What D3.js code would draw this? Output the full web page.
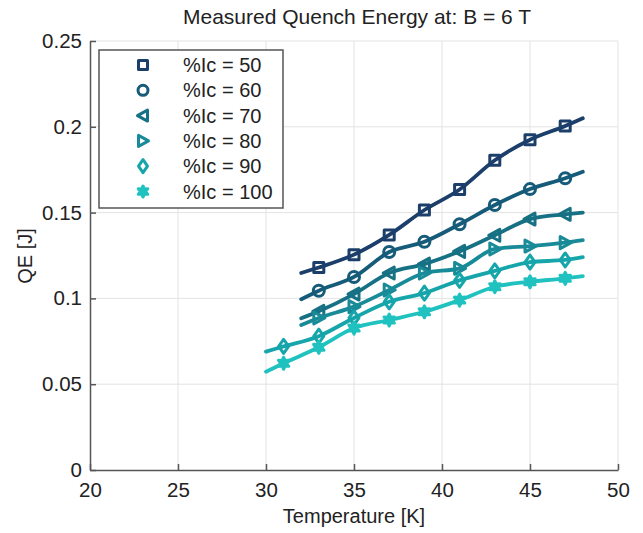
<!DOCTYPE html>
<html>
<head>
<meta charset="utf-8">
<script src="https://cdn.jsdelivr.net/npm/d3@7"></script>
<style>
  body { margin: 0; background: #fff; }
  svg { font-family: "Liberation Sans", Arial, sans-serif; }
</style>
</head>
<body>
<script>
// measured points
var temps = [33, 35, 37, 39, 41, 43, 45, 47];
var tempsLow = [31, 33, 35, 37, 39, 41, 43, 45, 47];
var qe50 = [0.118, 0.1255, 0.137, 0.1515, 0.1635, 0.1805, 0.1925, 0.2005];
var qe60 = [0.1045, 0.1125, 0.127, 0.133, 0.1432, 0.1544, 0.1637, 0.170];
var qe70 = [0.0925, 0.1025, 0.1148, 0.120, 0.1274, 0.1368, 0.1462, 0.149];
var qe80 = [0.0886, 0.0952, 0.1049, 0.1148, 0.1175, 0.1288, 0.1305, 0.1325];
var qe90 = [0.072, 0.078, 0.0886, 0.098, 0.1031, 0.1105, 0.116, 0.1212, 0.1224];
var qe100 = [0.0622, 0.0715, 0.0827, 0.0874, 0.0922, 0.099, 0.1068, 0.1097, 0.1117];

// fitted line ends (start T, start QE, end T, end QE)
var fit50 = [32, 0.1148, 48, 0.205];
var fit60 = [32, 0.0995, 48, 0.1738];
var fit70 = [32, 0.0884, 48, 0.150];
var fit80 = [32, 0.0845, 48, 0.134];
var fit90 = [30, 0.069, 48, 0.124];
var fit100 = [30, 0.0573, 48, 0.113];

var labels = ["%Ic = 50", "%Ic = 60", "%Ic = 70", "%Ic = 80", "%Ic = 90", "%Ic = 100"];
var xTicks = [20, 25, 30, 35, 40, 45, 50];
var yTicks = [0, 0.05, 0.1, 0.15, 0.2, 0.25];

var colors = ["#1b3f6a", "#165b79", "#177184", "#198b98", "#15a5aa", "#20c2c0"];
var shapes = ["square", "circle", "left", "right", "diamond", "star"];

var series = [
    {x: temps, y: qe50, fit: fit50},
    {x: temps, y: qe60, fit: fit60},
    {x: temps, y: qe70, fit: fit70},
    {x: temps, y: qe80, fit: fit80},
    {x: tempsLow, y: qe90, fit: fit90},
    {x: tempsLow, y: qe100, fit: fit100}
];

var W = 643, H = 533;
var m = {left: 90, right: 25, top: 41, bottom: 63};

var svg = d3.select("body").append("svg").attr("width", W).attr("height", H);

var x = d3.scaleLinear().domain([20, 50]).range([m.left, W - m.right]);
var y = d3.scaleLinear().domain([0, 0.25]).range([H - m.bottom, m.top]);

// grid
svg.append("g").selectAll("line").data(xTicks.slice(1)).enter().append("line")
    .attr("x1", function (d) { return x(d); }).attr("x2", function (d) { return x(d); })
    .attr("y1", y(0)).attr("y2", y(0.25))
    .attr("stroke", "#e3e3e3").attr("stroke-width", 1);
svg.append("g").selectAll("line").data(yTicks.slice(1)).enter().append("line")
    .attr("x1", x(20)).attr("x2", x(50))
    .attr("y1", function (d) { return y(d); }).attr("y2", function (d) { return y(d); })
    .attr("stroke", "#e3e3e3").attr("stroke-width", 1);

// axes, ticks inside
var xAxis = svg.append("g").attr("transform", "translate(0," + y(0) + ")")
    .call(d3.axisBottom(x).tickValues(xTicks).tickSizeInner(-6).tickSizeOuter(0).tickPadding(12));
var yAxis = svg.append("g").attr("transform", "translate(" + x(20) + ",0)")
    .call(d3.axisLeft(y).tickValues(yTicks).tickSizeInner(-6).tickSizeOuter(0).tickPadding(8)
        .tickFormat(function (d) { return d === 0 ? "0" : String(+d.toFixed(2)); }));
[xAxis, yAxis].forEach(function (g) {
    g.select(".domain").attr("stroke", "#555").attr("stroke-width", 1.5);
    g.selectAll(".tick line").attr("stroke", "#555").attr("stroke-width", 1.5);
    g.selectAll(".tick text").attr("fill", "#222").style("font-size", "20.5px")
        .style("font-family", "'Liberation Sans', Arial, sans-serif");
});

// marker path builder
function markerPath(shape, s) {
    var p = d3.path();
    if (shape === "square") {
        p.rect(-s / 2, -s / 2, s, s);
    } else if (shape === "circle") {
        p.arc(0, 0, s / 2 + 0.5, 0, Math.PI * 2);
    } else if (shape === "left") {
        p.moveTo(-s / 2 - 1, 0); p.lineTo(s / 2, -s / 2 - 1); p.lineTo(s / 2, s / 2 + 1); p.closePath();
    } else if (shape === "right") {
        p.moveTo(s / 2 + 1, 0); p.lineTo(-s / 2, -s / 2 - 1); p.lineTo(-s / 2, s / 2 + 1); p.closePath();
    } else if (shape === "diamond") {
        p.moveTo(0, -s / 2 - 2); p.lineTo(s / 2, 0); p.lineTo(0, s / 2 + 2); p.lineTo(-s / 2, 0); p.closePath();
    } else {
        var ro = s / 2 + 1, ri = s / 3.2;
        for (var k = 0; k < 12; k++) {
            var r = k % 2 === 0 ? ro : ri;
            var a = k * Math.PI / 6 - Math.PI / 2;
            if (k === 0) p.moveTo(r * Math.cos(a), r * Math.sin(a));
            else p.lineTo(r * Math.cos(a), r * Math.sin(a));
        }
        p.closePath();
    }
    return p.toString();
}

var line = d3.line().x(function (d) { return x(d[0]); }).y(function (d) { return y(d[1]); })
    .curve(d3.curveMonotoneX);

series.forEach(function (s, i) {
    var pts = s.x.map(function (t, j) { return [t, s.y[j]]; });
    var linePts = [[s.fit[0], s.fit[1]]].concat(pts).concat([[s.fit[2], s.fit[3]]]);
    svg.append("path").datum(linePts).attr("d", line)
        .attr("fill", "none").attr("stroke", colors[i]).attr("stroke-width", 3.8)
        .attr("stroke-linejoin", "round").attr("stroke-linecap", "round");
    svg.append("g").selectAll("path").data(pts).enter().append("path")
        .attr("transform", function (d) { return "translate(" + x(d[0]) + "," + y(d[1]) + ")"; })
        .attr("d", markerPath(shapes[i], 10))
        .attr("fill", shapes[i] === "star" ? colors[i] : "none")
        .attr("stroke", colors[i]).attr("stroke-width", 3).attr("stroke-linejoin", "round");
});

// legend
var lg = svg.append("g");
lg.append("rect").attr("x", 99).attr("y", 50).attr("width", 184).attr("height", 158)
    .attr("fill", "#fff").attr("stroke", "#555").attr("stroke-width", 1.5);
labels.forEach(function (t, i) {
    var ly = 65 + i * 25.3;
    lg.append("path").attr("transform", "translate(143," + ly + ")")
        .attr("d", markerPath(shapes[i], 9))
        .attr("fill", shapes[i] === "star" ? colors[i] : "none")
        .attr("stroke", colors[i]).attr("stroke-width", 3).attr("stroke-linejoin", "round");
    lg.append("text").attr("x", 183).attr("y", ly).attr("dy", "0.35em")
        .attr("fill", "#222").style("font-size", "20px").text(t);
});

// title and labels
svg.append("text").attr("x", 357).attr("y", 24).attr("text-anchor", "middle")
    .attr("fill", "#222").style("font-size", "21px").text("Measured Quench Energy at: B = 6 T");
svg.append("text").attr("x", 354).attr("y", 523).attr("text-anchor", "middle")
    .attr("fill", "#222").style("font-size", "20px").text("Temperature [K]");
svg.append("text").attr("transform", "translate(32,256) rotate(-90)").attr("text-anchor", "middle")
    .attr("fill", "#222").style("font-size", "20px").text("QE [J]");
</script>
</body>
</html>
